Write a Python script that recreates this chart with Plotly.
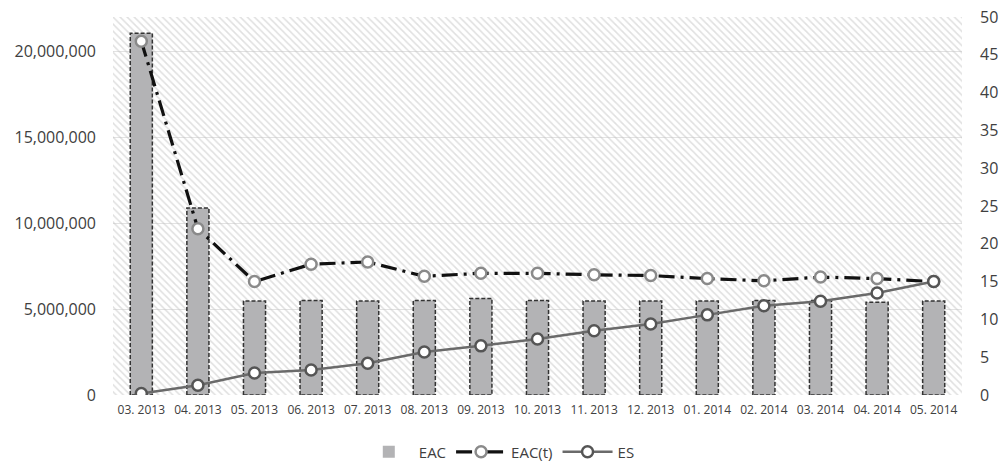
import plotly.graph_objects as go

months = ["03. 2013", "04. 2013", "05. 2013", "06. 2013", "07. 2013", "08. 2013",
          "09. 2013", "10. 2013", "11. 2013", "12. 2013", "01. 2014", "02. 2014",
          "03. 2014", "04. 2014", "05. 2014"]
eac = [21.05e6, 10.88e6, 5.47e6, 5.50e6, 5.47e6, 5.50e6, 5.62e6, 5.50e6,
       5.47e6, 5.47e6, 5.47e6, 5.50e6, 5.50e6, 5.40e6, 5.47e6]
eac_t = [46.8, 22.0, 15.0, 17.3, 17.6, 15.7, 16.1, 16.1, 15.9, 15.8, 15.4, 15.1, 15.6, 15.4, 15.0]
es = [0.2, 1.3, 2.9, 3.3, 4.2, 5.7, 6.5, 7.4, 8.5, 9.4, 10.6, 11.8, 12.4, 13.5, 15.0]

left_ticks = [0, 5e6, 10e6, 15e6, 20e6]
left_max = 22e6
right_max = 50

xs = list(range(len(months)))
bar_w = 0.39
font_family = "Open Sans, Liberation Sans, sans-serif"
txt_color = "#404040"

fig = go.Figure()

# hatched plot background (as a bar spanning the whole plot area)
fig.add_trace(go.Bar(
    x=[(len(months) - 1) / 2], y=[left_max], width=[len(months)],
    marker=dict(color="rgba(0,0,0,0)", line=dict(width=0),
                pattern=dict(shape="\\", fgcolor="#c2c2c2", bgcolor="rgba(0,0,0,0)",
                             size=5, solidity=0.32)),
    showlegend=False, hoverinfo="skip", yaxis="y"))

fig.add_trace(go.Bar(
    x=xs, y=eac, width=bar_w, name="EAC", legendgroup="eac",
    marker=dict(color="#b3b3b5", line=dict(width=0)), yaxis="y"))

# dashed outlines of bars
ox, oy = [], []
for i, v in zip(xs, eac):
    ox += [i - bar_w / 2, i - bar_w / 2, i + bar_w / 2, i + bar_w / 2, i - bar_w / 2, None]
    oy += [0, v, v, 0, 0, None]
fig.add_trace(go.Scatter(
    x=ox, y=oy, mode="lines", line=dict(color="#333333", width=1.5, dash="4px,2px"),
    legendgroup="eac", showlegend=False, hoverinfo="skip", yaxis="y"))

fig.add_trace(go.Scatter(
    x=xs, y=eac_t, name="EAC(t)", mode="lines+markers", yaxis="y2",
    line=dict(color="#111111", width=3.2, dash="16px,6px,3px,6px"),
    marker=dict(size=11, color="white", line=dict(color="#8a8a8a", width=2.5))))

fig.add_trace(go.Scatter(
    x=xs, y=es, name="ES", mode="lines+markers", yaxis="y2",
    line=dict(color="#6a6a6a", width=2.5),
    marker=dict(size=11, color="white", line=dict(color="#555555", width=2.5))))

fig.update_layout(
    width=1001, height=461,
    margin=dict(l=113, r=39, t=17, b=66, autoexpand=False),
    paper_bgcolor="white", plot_bgcolor="white",
    barmode="overlay",
    font=dict(family=font_family, color=txt_color),
    xaxis=dict(range=[-0.5, len(months) - 0.5], tickvals=xs, ticktext=months,
               showgrid=False, zeroline=False, showline=False, ticks="",
               ticklabelstandoff=6, tickfont=dict(size=12, color=txt_color)),
    yaxis=dict(range=[0, left_max], tickvals=left_ticks, tickformat=",.0f",
               showgrid=True, gridcolor="#e2e2e2", gridwidth=1, zeroline=False,
               showline=False, ticks="", ticklabelstandoff=16,
               tickfont=dict(size=16, color=txt_color)),
    yaxis2=dict(range=[0, right_max], dtick=5, overlaying="y", side="right",
                showgrid=False, zeroline=False, showline=False, ticks="",
                ticklabelstandoff=17, tickfont=dict(size=16, color=txt_color)),
    legend=dict(orientation="h", x=0.455, xanchor="center", y=-0.151, yanchor="middle",
                font=dict(size=15, color=txt_color), bgcolor="rgba(0,0,0,0)",
                itemwidth=50, traceorder="normal"),
)

fig.write_html("out.html")
